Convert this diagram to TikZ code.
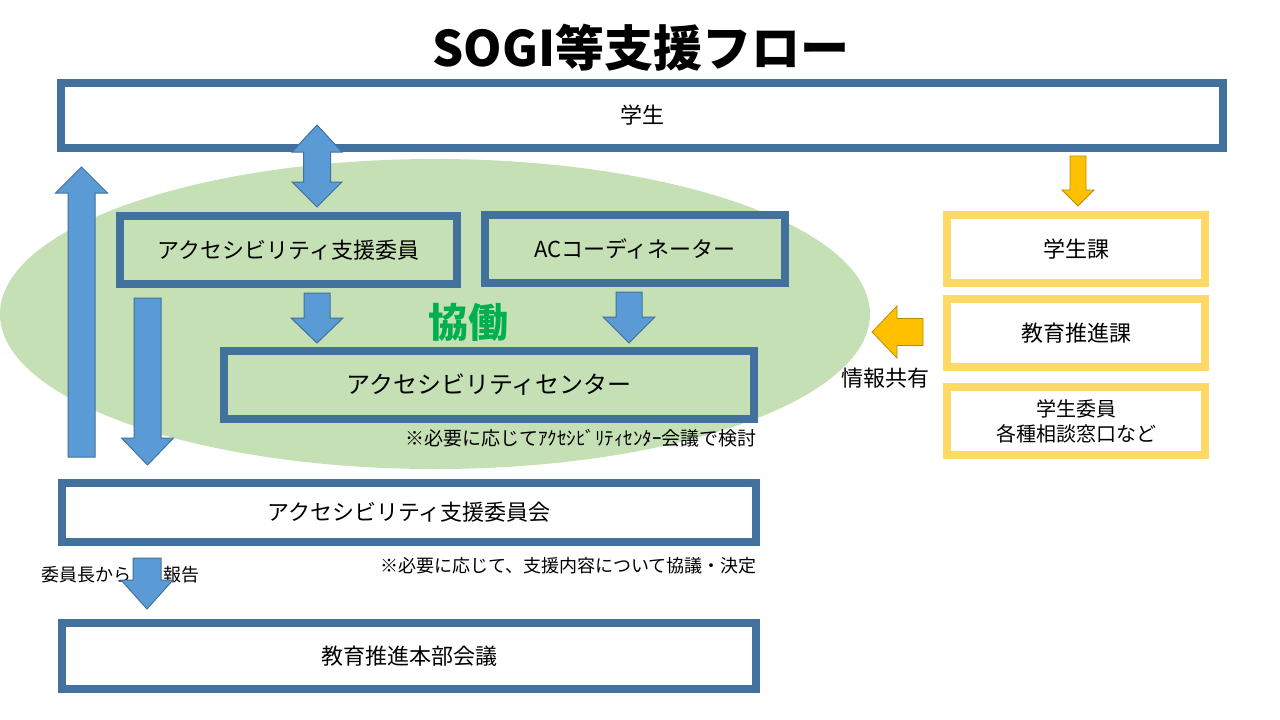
\documentclass[tikz,border=0pt]{standalone}
\usepackage{fontspec}
\setmainfont{Noto Sans CJK JP}
\definecolor{boxblue}{HTML}{41719C}
\definecolor{arrblue}{HTML}{5B9BD5}
\definecolor{ellgreen}{HTML}{C5E0B4}
\definecolor{boxyellow}{HTML}{FFD966}
\definecolor{arryellow}{HTML}{FFC000}
\definecolor{arryellowline}{HTML}{BC8C00}
\definecolor{kyogreen}{HTML}{00B050}
\newcommand{\varr}[7][blue]{%
  \filldraw[arr#1] (#2-#6,#3) -- (#2+#6,#3) -- (#2+#6,#4) -- (#2+#7,#4) -- (#2,#5) -- (#2-#7,#4) -- (#2-#6,#4) -- cycle;}
\tikzset{
  arrblue/.style={fill=arrblue, draw=boxblue, line width=1pt},
  arryellow/.style={fill=arryellow, draw=arryellowline, line width=0.8pt},
  bbox/.style={draw=boxblue, line width=8pt, inner sep=0pt, outer sep=0pt, font=\fontsize{22}{26}\selectfont, align=center},
  ybox/.style={draw=boxyellow, line width=8pt, fill=white, inner sep=0pt, outer sep=0pt, font=\fontsize{22}{26}\selectfont, align=center},
  note/.style={inner sep=0pt, font=\fontsize{18}{21}\selectfont},
}
\begin{document}
\begin{tikzpicture}[x=1pt,y=-1pt]
\useasboundingbox (0,0) rectangle (1280,720);
\fill[white] (0,0) rectangle (1280,720);
% ellipse
\fill[ellgreen] (435,314) ellipse [x radius=435, y radius=155];
% title
\node[font=\fontsize{49}{56}\selectfont\bfseries] (title) at (641,48) {SOGI等支援フロー};
% boxes
\node[bbox, fill=white, minimum width=1162, minimum height=65] (gakusei) at (642,115.5) {学生};
\node[bbox, minimum width=337, minimum height=68] (iin) at (288.5,250) {アクセシビリティ支援委員};
\node[bbox, minimum width=300, minimum height=68] (acc) at (635,249) {ACコーディネーター};
\node[bbox, minimum width=530, minimum height=68, font=\fontsize{24}{28}\selectfont] (acenter) at (489,385) {アクセシビリティセンター};
\node[bbox, fill=white, minimum width=694, minimum height=59] (iinkai) at (409,512.5) {アクセシビリティ支援委員会};
\node[bbox, fill=white, minimum width=694, minimum height=66] (honbu) at (409,656) {教育推進本部会議};
\node[ybox, minimum width=258, minimum height=68] (gakuseika) at (1076,249) {学生課};
\node[ybox, minimum width=258, minimum height=68] (kyoiku) at (1076,333) {教育推進課};
\node[ybox, minimum width=258, minimum height=68, font=\fontsize{20}{25}\selectfont] (madoguchi) at (1076,421) {学生委員\\各種相談窓口など};
% texts
\node[font=\fontsize{40}{44}\selectfont\bfseries, text=kyogreen] (kyodo) at (468,322) {協働};
\node[note, anchor=east, font=\fontsize{19}{22}\selectfont] (note1) at (757,438) {※必要に応じてｱｸｾｼﾋﾞﾘﾃｨｾﾝﾀｰ会議で検討};
\node[note, anchor=east] (note2) at (757,566) {※必要に応じて、支援内容について協議・決定};
\node[note, anchor=east] (rep1) at (132,575) {委員長から};
\node[note, anchor=west] (rep2) at (163,575) {報告};
\node[font=\fontsize{22}{26}\selectfont] (joho) at (885,378) {情報共有};
% arrows
\filldraw[arrblue] (317,125) -- (342,152) -- (330.5,152) -- (330.5,182) -- (342,182) -- (317,207) -- (292,182) -- (303.5,182) -- (303.5,152) -- (292,152) -- cycle;
\varr{81.5}{457}{193}{167}{13.5}{26}
\varr{147.5}{298}{438}{465}{13.5}{26}
\varr{317}{293}{318}{343}{13}{26}
\varr{629}{292}{317}{343}{13}{26}
\varr{147}{558}{580}{609}{14}{26}
\varr[yellow]{1078}{156}{190}{206}{8}{16}
\filldraw[arryellow] (872,332) -- (897,306) -- (897,318.5) -- (923,318.5) -- (923,345.5) -- (897,345.5) -- (897,358) -- cycle;
\end{tikzpicture}
\end{document}
